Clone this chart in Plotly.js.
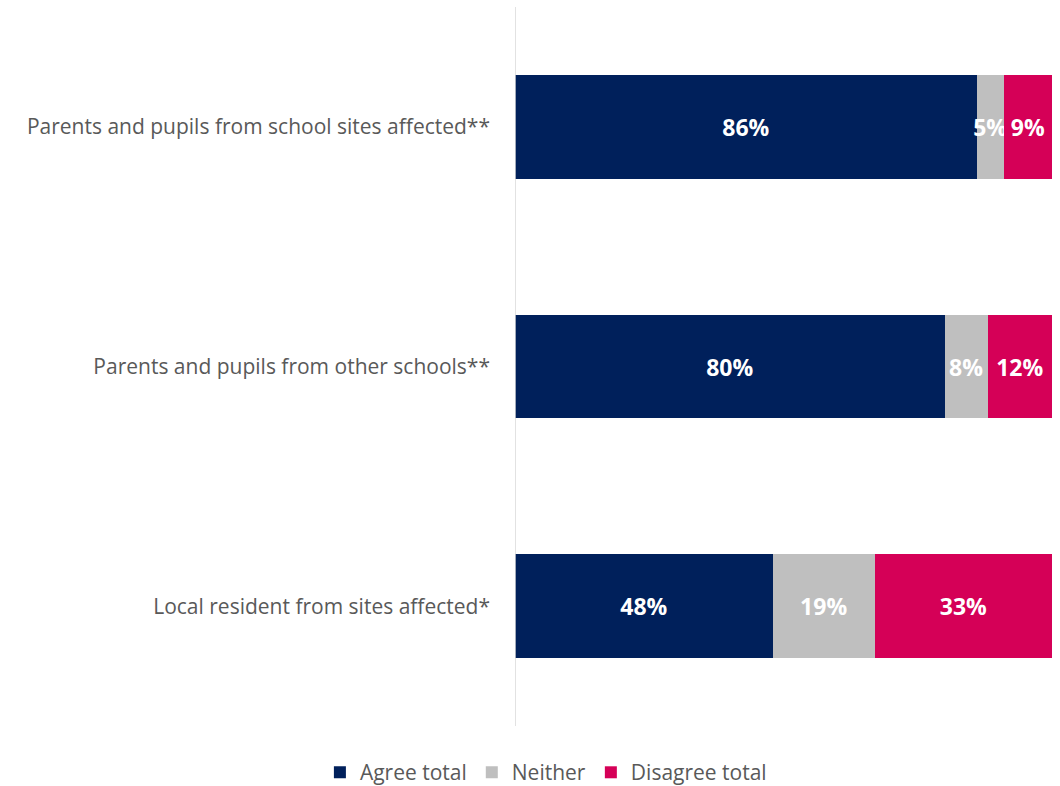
<!DOCTYPE html>
<html>
<head>
<meta charset="utf-8">
<script src="https://cdn.plot.ly/plotly-3.0.1.min.js"></script>
<style>html,body{margin:0;padding:0;background:#fff;}#chart{width:1060px;height:786px;}</style>
</head>
<body>
<div id="chart"></div>
<script>
const categories = [
  "Parents and pupils from school sites affected**",
  "Parents and pupils from other schools**",
  "Local resident from sites affected*"
];
const agree = [86, 80, 48];
const neither = [5, 8, 19];
const disagree = [9, 12, 33];
const seriesNames = ["Agree total", "Neither", "Disagree total"];
const colors = ["#00205B", "#BFBFBF", "#D50057"];

const series = [agree, neither, disagree];
const data = series.map((vals, i) => ({
  type: 'bar',
  orientation: 'h',
  name: seriesNames[i],
  y: categories,
  x: vals,
  marker: {color: colors[i]},
  text: vals.map(v => v + '%'),
  textposition: 'inside',
  insidetextanchor: 'middle',
  textangle: 0,
  constraintext: 'none',
  cliponaxis: false,
  textfont: {family: 'Open Sans', size: 23, color: '#FFFFFF', weight: 'bold'},
  hoverinfo: 'x+name'
}));

const layout = {
  width: 1060, height: 786,
  barmode: 'stack',
  bargap: 0.567,
  margin: {l: 515, r: 8, t: 7, b: 60},
  paper_bgcolor: '#fff', plot_bgcolor: '#fff',
  font: {family: 'Open Sans', color: '#595959', size: 21},
  uniformtext: {mode: 'show', minsize: 23},
  xaxis: {range: [0, 100], showgrid: false, zeroline: false, showticklabels: false, showline: false, fixedrange: true},
  yaxis: {autorange: 'reversed', showgrid: false, zeroline: false, showline: false,
          ticks: '', ticklabelstandoff: 24, tickfont: {size: 21, color: '#595959'}},
  shapes: [{type: 'line', xref: 'x', yref: 'paper', x0: 0, x1: 0, y0: 0, y1: 1,
            line: {color: '#D9D9D9', width: 1.5}}],
  showlegend: true,
  legend: {orientation: 'h', xref: 'container', yref: 'container', x: 0.515, xanchor: 'center',
           y: 0.017, yanchor: 'middle', font: {size: 21, color: '#595959'}, traceorder: 'normal',
           itemwidth: 30}
};

Plotly.newPlot('chart', data, layout, {displayModeBar: false, staticPlot: true});
</script>
</body>
</html>
